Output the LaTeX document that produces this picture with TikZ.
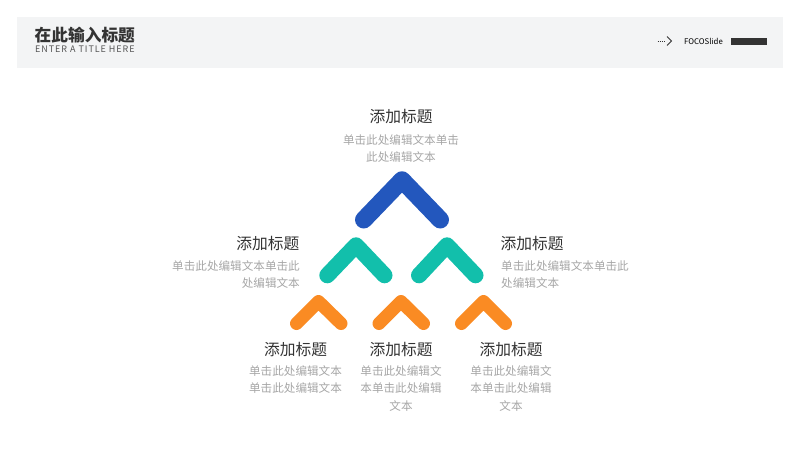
\documentclass[tikz,border=0pt]{standalone}
\usepackage{fontspec}
\setmainfont{Noto Sans CJK SC}
\definecolor{bandC}{HTML}{F3F4F5}
\definecolor{darkC}{HTML}{333333}
\definecolor{subC}{HTML}{555555}
\definecolor{greyC}{HTML}{A6A6A6}
\definecolor{blueC}{HTML}{2357BD}
\definecolor{tealC}{HTML}{12BFAB}
\definecolor{orangeC}{HTML}{FA8B23}
\tikzset{
  ttl/.style={inner sep=0pt, text=darkC, font=\fontsize{15.75}{17}\selectfont},
  body/.style={inner sep=0pt, text=greyC, font=\fontsize{11.6}{17.4}\selectfont},
  chev/.style={line cap=round, line join=round},
}
\begin{document}
\begin{tikzpicture}[x=1pt,y=-1pt]
\useasboundingbox (0,0) rectangle (800,450);
% header band
\fill[bandC] (17,17) rectangle (783,68);
\node[inner sep=0pt, anchor=west, text=darkC, font=\fontsize{16.7}{18}\selectfont\bfseries] (htitle) at (34.5,35.5) {在此输入标题};
\node[inner sep=0pt, anchor=west, text=subC, font=\fontsize{9}{10}\selectfont\addfontfeatures{LetterSpace=10.5}] (hsub) at (35,49.5) {ENTER A TITLE HERE};
\node[inner sep=0pt, anchor=west, text=black, font=\fontsize{7.8}{9}\selectfont] (brand) at (684,41) {FOCOSlide};
\draw[darkC, line width=0.9pt, dash pattern=on 0.9pt off 1.3pt] (657.5,41) -- (665.5,41);
\draw[darkC, line width=0.9pt] (667,36.5) -- (671.5,41) -- (667,45.5);
\fill[darkC] (731,38) rectangle (767,44.5);
% chevrons
\draw[chev, blueC, line width=17.5pt] (363.75,219.75) -- (402,180) -- (440.25,219.75);
\draw[chev, tealC, line width=16pt] (327.3,275.3) -- (356,245.3) -- (384.5,275.3);
\draw[chev, tealC, line width=16pt] (419,275.3) -- (447,245.3) -- (475.5,275.3);
\draw[chev, orangeC, line width=13pt] (296.5,323.5) -- (318.5,301.5) -- (341,323.5);
\draw[chev, orangeC, line width=13pt] (379,323.5) -- (401,301.5) -- (423.5,323.5);
\draw[chev, orangeC, line width=13pt] (461.5,323.5) -- (483.5,301.5) -- (505.5,323.5);
% top text
\node[ttl] (t1) at (401,117) {添加标题};
\node[body, align=center] (b1) at (401,148.5) {单击此处编辑文本单击\\此处编辑文本};
% middle left
\node[ttl, anchor=east] (t2) at (299.5,244) {添加标题};
\node[body, align=right, anchor=east] (b2) at (300,274.5) {单击此处编辑文本单击此\\处编辑文本};
% middle right
\node[ttl, anchor=west] (t3) at (500.5,244) {添加标题};
\node[body, align=left, anchor=west] (b3) at (501,274.5) {单击此处编辑文本单击此\\处编辑文本};
% bottom
\node[ttl] (t4) at (295.5,350) {添加标题};
\node[body, align=center] (b4) at (295.5,379.5) {单击此处编辑文本\\单击此处编辑文本};
\node[ttl] (t5) at (401,350) {添加标题};
\node[body, align=center] (b5) at (401,388.5) {单击此处编辑文\\本单击此处编辑\\文本};
\node[ttl] (t6) at (511,350) {添加标题};
\node[body, align=center] (b6) at (511,388.5) {单击此处编辑文\\本单击此处编辑\\文本};
\end{tikzpicture}
\end{document}
